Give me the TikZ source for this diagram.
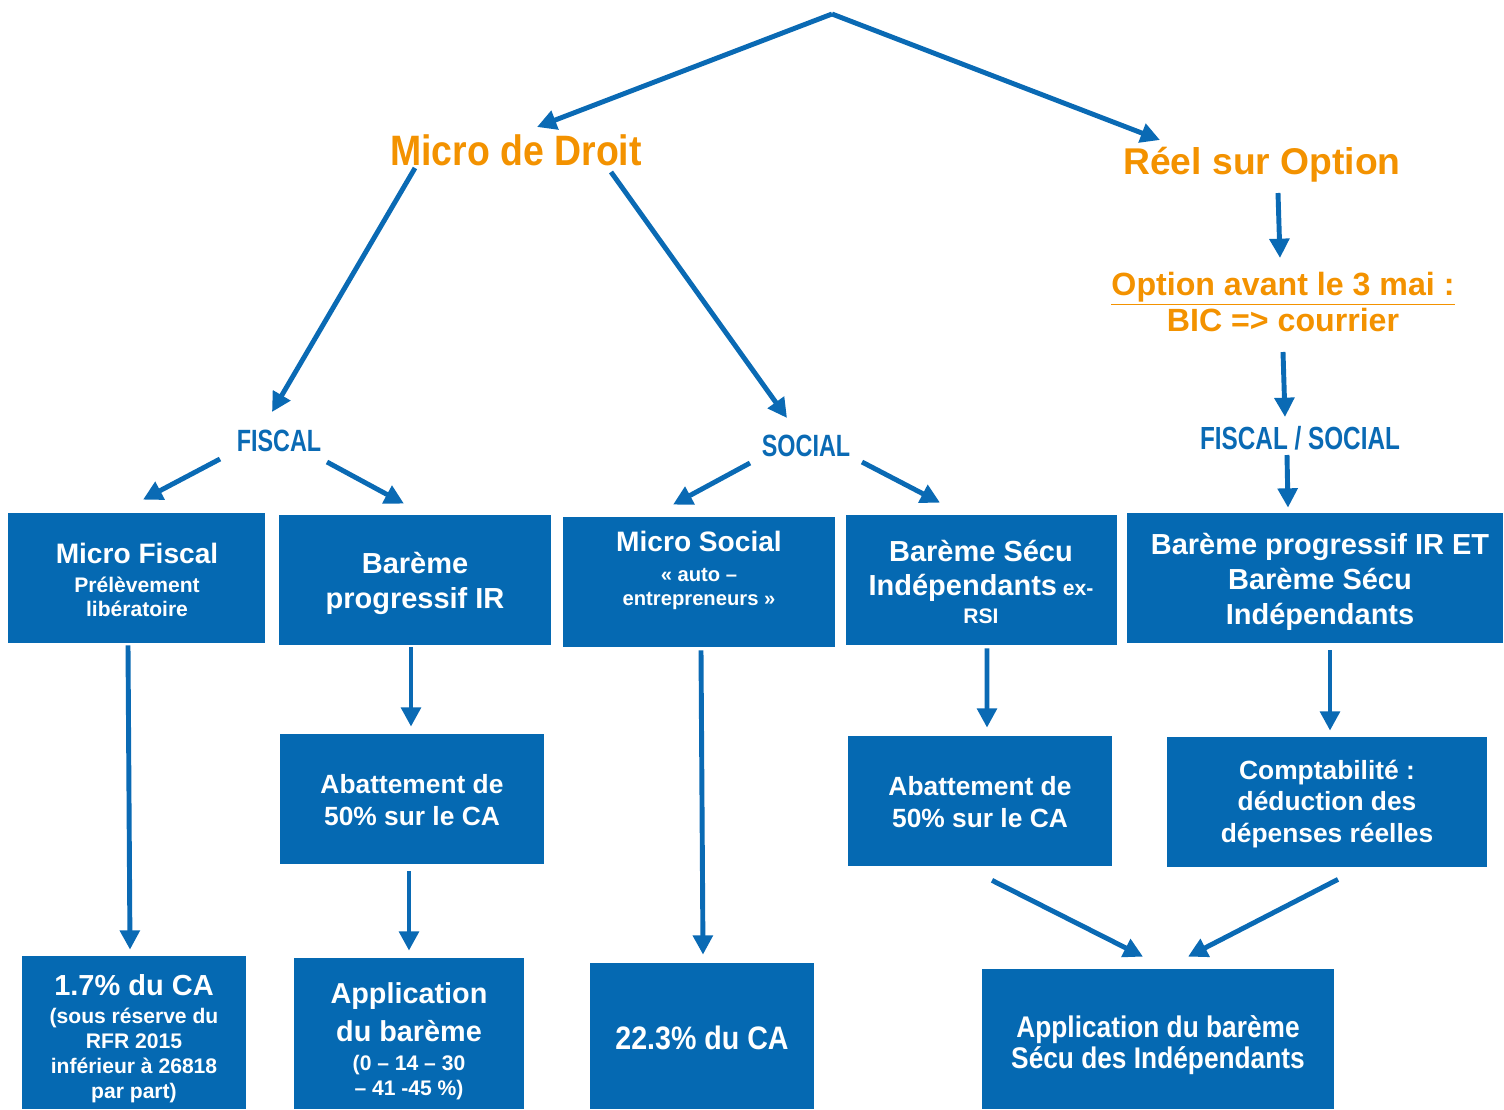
\documentclass[tikz,border=0pt]{standalone}
\usepackage{fontspec}
\setmainfont{Liberation Sans}
\newfontfamily\condf{Liberation Sans}[FakeStretch=0.76]
\newfontfamily\narf{Liberation Sans}[FakeStretch=0.88]
\usetikzlibrary{arrows.meta,fit,calc}
\definecolor{boxblue}{HTML}{0569B2}
\definecolor{arrblue}{HTML}{0A6AB4}
\definecolor{orng}{HTML}{F39200}
\newcommand\fsz[2]{\fontsize{#1}{#2}\selectfont}
\begin{document}
\begin{tikzpicture}[x=0.02cm,y=-0.02cm,
 box/.style={fill=boxblue, draw=none, inner sep=0pt},
 btxt/.style={text=white, align=center, inner sep=0pt},
 arr/.style={draw=arrblue, line width=2.8pt, -{Triangle[length=11pt,width=11pt]}},
 lab/.style={text=arrblue, font=\condf\bfseries\fsz{17.5}{20}, inner sep=0pt},
 orange/.style={text=orng, inner sep=0pt, align=center}]
\useasboundingbox (0,0) rectangle (1504,1109);

% titles
\coordinate (top) at (832,14);
\node[orange, font=\narf\bfseries\fsz{24.2}{27}] (md) at (516,150) {Micro de Droit};
\node[orange, font=\bfseries\fsz{21.2}{25}] (reel) at (1262,165) {Réel sur Option};
\node[orange, font=\bfseries\fsz{18.3}{21.5}] (opt) at (1283,302) {\underline{Option avant le 3 mai :}\\[-1pt]BIC => courrier};
\node[lab] (fis) at (279,441) {FISCAL};
\node[lab] (soc) at (806,446) {SOCIAL};
\node[lab, font=\condf\bfseries\fsz{18.2}{20}] (fs) at (1300,438) {FISCAL / SOCIAL};

% boxes
\node[box, fit={(8,513) (265,643)}] (b1) {};
\node[box, fit={(279,515) (551,645)}] (b2) {};
\node[box, fit={(563,517) (835,647)}] (b3) {};
\node[box, fit={(846,515) (1117,645)}] (b4) {};
\node[box, fit={(1127,513) (1503,643)}] (b5) {};
\node[box, fit={(280,734) (544,864)}] (b6) {};
\node[box, fit={(848,736) (1112,866)}] (b7) {};
\node[box, fit={(1167,737) (1487,867)}] (b8) {};
\node[box, fit={(22,956) (246,1109)}] (b9) {};
\node[box, fit={(294,958) (524,1109)}] (b10) {};
\node[box, fit={(590,963) (814,1109)}] (b11) {};
\node[box, fit={(982,969) (1334,1109)}] (b12) {};

% box texts
\node[btxt, font=\bfseries\fsz{12}{14.2}] (t1) at (137,580)
  {{\fsz{16}{19}Micro Fiscal}\\[2.2pt] Prélèvement\\ libératoire};
\node[btxt, font=\bfseries\fsz{16.5}{19.8}] (t2) at (415,583.5)
  {Barème\\ progressif IR};
\node[btxt, font=\bfseries\fsz{11.5}{13.6}] (t3) at (699,570.5)
  {{\fsz{16}{19}Micro Social}\\[3.4pt] « auto –\\ entrepreneurs »};
\node[btxt, font=\bfseries\fsz{12}{16.4}] (t4) at (981,582)
  {{\fsz{16.5}{19}Barème Sécu}\\[2.9pt] {\fsz{16.5}{19}Indépendants} ex-\\ RSI};
\node[btxt, font=\bfseries\fsz{16.5}{19.8}] (t5) at (1320,582)
  {Barème progressif IR ET\\ Barème Sécu\\ Indépendants};
\node[btxt, font=\bfseries\fsz{15}{18.1}] (t6) at (412,800)
  {Abattement de\\ 50\% sur le CA};
\node[btxt, font=\bfseries\fsz{15}{18.1}] (t7) at (980,802)
  {Abattement de\\ 50\% sur le CA};
\node[btxt, font=\bfseries\fsz{15}{17.9}] (t8) at (1327,804)
  {Comptabilité :\\ déduction des\\ dépenses réelles};
\node[btxt, font=\bfseries\fsz{12}{14.2}] (t9) at (134,1039)
  {{\fsz{16.5}{19}1.7\% du CA}\\[1.7pt] (sous réserve du\\ RFR 2015\\ inférieur à 26818\\ par part)};
\node[btxt, font=\bfseries\fsz{12}{14.2}] (t10) at (409,1041)
  {{\fsz{16.4}{19}Application}\\[5.1pt] {\fsz{16.4}{19}du barème}\\[2.2pt] (0 – 14 – 30\\ – 41 -45 \%)};
\node[btxt, font=\narf\bfseries\fsz{18.5}{21}] (t11) at (702,1038) {22.3\% du CA};
\node[btxt, font=\narf\bfseries\fsz{17}{17.6}] (t12) at (1158,1045)
  {Application du barème\\ Sécu des Indépendants};

% connectors
\draw[arr] (top) -- ($(md)+(21,-23)$);
\draw[arr] (top) -- ($(reel)+(-102,-25)$);
\draw[arr] ($(md)+(-101,18)$) -- ($(fis)+(-7,-29)$);
\draw[arr] ($(md)+(95,22)$) -- ($(soc)+(-19,-28)$);
\draw[arr] ($(fis)+(-59,18)$) -- ($(b1.north)+(6.5,-13)$);
\draw[arr] ($(fis)+(48,21)$) -- ($(b2.north)+(-11,-11)$);
\draw[arr] ($(soc)+(-56,17)$) -- ($(b3.north)+(-26,-12)$);
\draw[arr] ($(soc)+(56,16)$) -- ($(b4.north)+(-41.5,-12)$);
\draw[arr] ($(reel)+(16,28)$) -- ($(opt)+(-3,-44)$);
\draw[arr] ($(opt)+(0,50)$) -- ($(fs)+(-15,-21)$);
\draw[arr] ($(fs)+(-13,17)$) -- ($(b5.north)+(-27,-5)$);
\draw[arr] ($(b1.south)+(-8.5,2)$) -- ($(b9.north)+(-4,-6)$);
\draw[arr] ($(b2.south)+(-4,2)$) -- ($(b6.north)+(-1,-7)$);
\draw[arr] ($(b6.south)+(-3,7)$) -- ($(b10.north)+(0,-7)$);
\draw[arr] ($(b3.south)+(2,3)$) -- ($(b11.north)+(1,-8)$);
\draw[arr] ($(b4.south)+(5.5,3)$) -- ($(b7.north)+(7,-8)$);
\draw[arr] ($(b5.south)+(15,7)$) -- ($(b8.north)+(3,-6)$);
\draw[arr] ($(b7.south)+(12,14)$) -- ($(b12.north)+(-15,-12)$);
\draw[arr] ($(b8.south)+(11,12)$) -- ($(b12.north)+(30,-12)$);
\end{tikzpicture}
\end{document}
